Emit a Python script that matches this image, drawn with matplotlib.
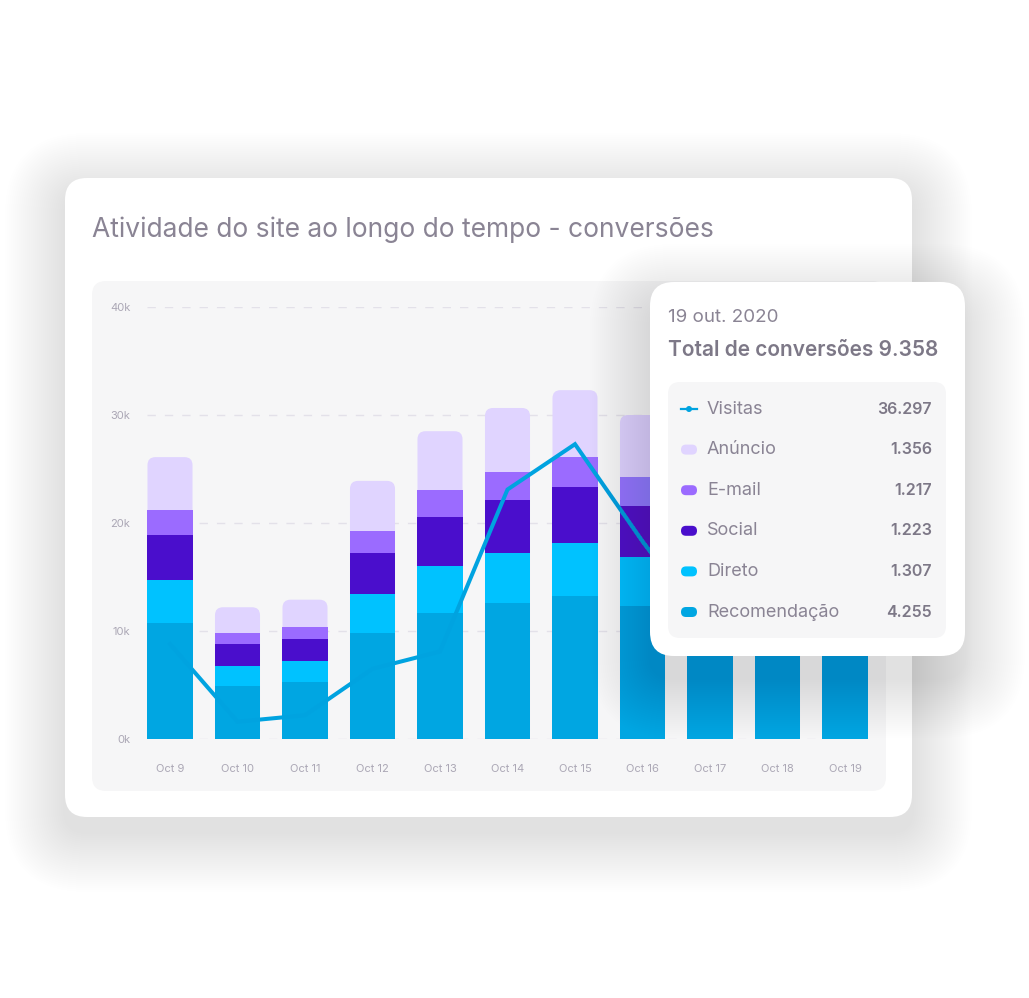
import numpy as np
import matplotlib
matplotlib.use("Agg")
import matplotlib.pyplot as plt
from matplotlib.patches import FancyBboxPatch, Circle

W, H = 1029, 998

# --- data (conversions, thousands) ---
days = ["Oct 9", "Oct 10", "Oct 11", "Oct 12", "Oct 13", "Oct 14",
        "Oct 15", "Oct 16", "Oct 17", "Oct 18", "Oct 19"]
recomendacao = [10.7, 4.95, 5.25, 9.8, 11.7, 12.55, 13.25, 12.3, 11.8, 11.0, 10.5]
direto = [4.0, 1.85, 1.95, 3.6, 4.3, 4.65, 4.9, 4.55, 4.3, 4.0, 3.8]
social = [4.2, 2.0, 2.1, 3.8, 4.6, 4.9, 5.15, 4.75, 4.5, 4.2, 4.0]
email = [2.3, 1.05, 1.1, 2.1, 2.5, 2.65, 2.8, 2.7, 2.5, 2.3, 2.2]
anuncio = [4.9, 2.35, 2.5, 4.6, 5.4, 5.9, 6.2, 5.7, 5.3, 5.0, 4.7]
visitas = [8.8, 1.6, 2.2, 6.5, 8.1, 23.1, 27.3, 18.3, 10.0, 13.5, 15.5]

yticks = [0, 10, 20, 30, 40]
ytick_labels = ["0k", "10k", "20k", "30k", "40k"]

title = "Atividade do site ao longo do tempo - conversões"
tip_date = "19 out. 2020"
tip_total = "Total de conversões 9.358"
tip_labels = ["Visitas", "Anúncio", "E-mail", "Social", "Direto", "Recomendação"]
tip_values = ["36.297", "1.356", "1.217", "1.223", "1.307", "4.255"]

c_rec = "#00A6E2"
c_dir = "#00C2FF"
c_soc = "#4A0ECC"
c_mail = "#9B6BFF"
c_anu = "#E0D4FF"
c_line = "#00A3E0"
tip_colors = [c_line, c_anu, c_mail, c_soc, c_dir, c_rec]

txt = "#8A8494"
txt_dark = "#7D7887"
tick_c = "#ABA7B5"

plt.rcParams["font.family"] = ["Inter", "DejaVu Sans"]

fig = plt.figure(figsize=(W / 100, H / 100), dpi=100)
fig.patch.set_facecolor("white")


def px_axes(z):
    a = fig.add_axes([0, 0, 1, 1], zorder=z)
    a.set_xlim(0, W)
    a.set_ylim(H, 0)
    a.axis("off")
    a.patch.set_alpha(0)
    return a


def rbox(a, x0, y0, x1, y1, r, **kw):
    p = FancyBboxPatch((x0, y0), x1 - x0, y1 - y0,
                       boxstyle=f"round,pad=0,rounding_size={r}", **kw)
    a.add_patch(p)
    return p


def shadow(a, x0, y0, x1, y1, r, spread, n, alpha, dy, color):
    for i in range(n):
        s = spread * (i + 1) / n
        rbox(a, x0 - s, y0 - s + dy, x1 + s, y1 + s + dy, r + s,
             fc=color, ec="none", alpha=alpha)


# background: card + plot area
bg = px_axes(0)
shadow(bg, 65, 178, 912, 817, 22, 60, 30, 0.0024, 15, "#8484a0")
rbox(bg, 65, 178, 912, 817, 22, fc="white", ec="none")
bg.text(92, 230, title, fontsize=19, color=txt, va="center", ha="left")
rbox(bg, 92, 281, 886, 791, 14, fc="#F6F6F7", ec="none")

# main chart
x0px, x1px, y0px, y1px = 147, 870, 739, 307
ax = fig.add_axes([x0px / W, 1 - y0px / H, (x1px - x0px) / W, (y0px - y1px) / H], zorder=1)
ax.patch.set_alpha(0)
ax.set_xlim((x0px - 170) / 67.5, (x1px - 170) / 67.5)
ax.set_ylim(0, 40)
for s in ax.spines.values():
    s.set_visible(False)

x = np.arange(len(days))
bw = 0.667
rec = np.array(recomendacao)
dr = np.array(direto)
so = np.array(social)
em = np.array(email)
an = np.array(anuncio)
total = rec + dr + so + em + an

# rounded top: full-height rounded box in the top colour, lower segments over it
rx = 8 / 67.5
ry = 8 / 10.8
for i in x:
    p = FancyBboxPatch((i - bw / 2, 0), bw, total[i],
                       boxstyle=f"round,pad=0,rounding_size={rx}",
                       mutation_aspect=ry / rx, fc=c_anu, ec="none", zorder=2)
    ax.add_patch(p)

ax.bar(x, rec, bw, color=c_rec, zorder=3)
ax.bar(x, dr, bw, bottom=rec, color=c_dir, zorder=3)
ax.bar(x, so, bw, bottom=rec + dr, color=c_soc, zorder=3)
ax.bar(x, em, bw, bottom=rec + dr + so, color=c_mail, zorder=3)

ax.plot(x, visitas, color=c_line, lw=2.9, zorder=4, solid_joinstyle="miter")

ax.set_yticks(yticks)
ax.set_yticklabels(ytick_labels)
ax.set_xticks(x)
ax.set_xticklabels(days)
ax.tick_params(length=0, colors=tick_c, labelsize=8)
ax.tick_params(axis="y", pad=12)
ax.tick_params(axis="x", pad=18)
ax.set_axisbelow(True)
ax.yaxis.grid(True, color="#E3E1E9", lw=1, dashes=(6, 6.5))

# tooltip overlay
ov = px_axes(3)
shadow(ov, 650, 282, 965, 656, 24, 60, 30, 0.004, 22, "#6c6c80")
rbox(ov, 650, 282, 965, 656, 24, fc="white", ec="none")
ov.text(668, 317, tip_date, fontsize=13.5, color=txt, va="center", ha="left")
ov.text(668, 350, tip_total, fontsize=15, color=txt_dark, va="center",
        ha="left", fontweight="semibold")
rbox(ov, 668, 382, 946, 638, 12, fc="#F6F6F7", ec="none")
row_y = 409
for lab, val, col in zip(tip_labels, tip_values, tip_colors):
    if lab == "Visitas":
        ov.plot([681, 697], [row_y, row_y], color=col, lw=1.6)
        ov.add_patch(Circle((689, row_y), 3, fc=col, ec="none"))
    else:
        rbox(ov, 681, row_y - 5, 697, row_y + 5, 5, fc=col, ec="none")
    ov.text(707, row_y, lab, fontsize=13, color=txt, va="center", ha="left")
    ov.text(932, row_y, val, fontsize=11.5, color=txt_dark, va="center",
            ha="right", fontweight="semibold")
    row_y += 40.6

fig.savefig("out.png", dpi=100, facecolor="white")
